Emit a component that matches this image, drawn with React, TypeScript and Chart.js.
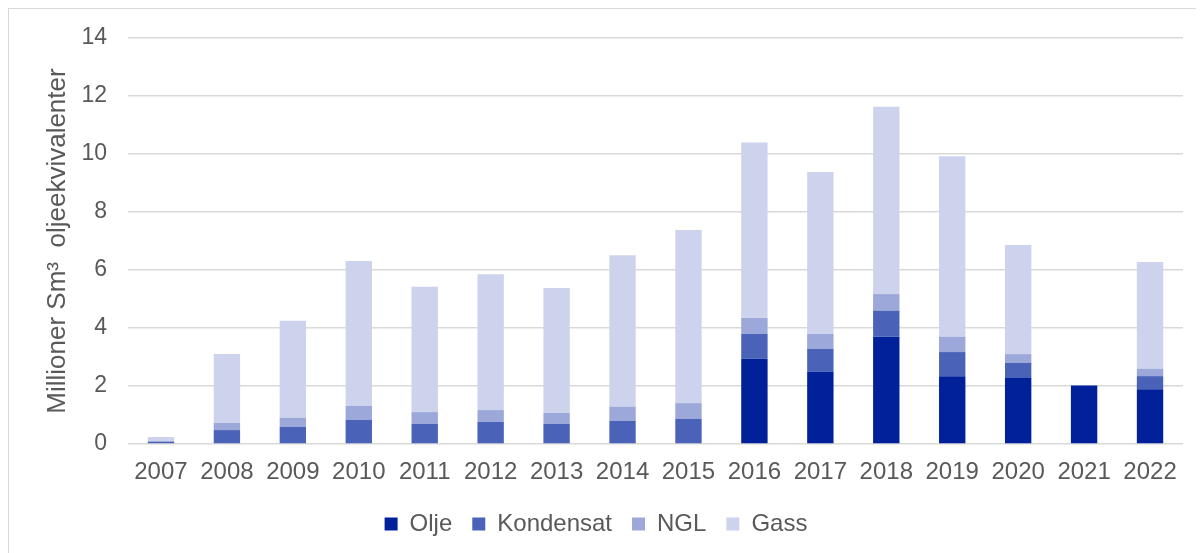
import React, { useEffect, useRef } from "react";
import { Chart, registerables } from "chart.js";

Chart.register(...registerables);

const years = ["2007", "2008", "2009", "2010", "2011", "2012", "2013", "2014", "2015", "2016", "2017", "2018", "2019", "2020", "2021", "2022"];
const olje = [0, 0, 0, 0, 0, 0, 0, 0, 0, 2.94, 2.49, 3.7, 2.34, 2.29, 2.02, 1.89];
const kondensat = [0.08, 0.48, 0.59, 0.83, 0.69, 0.76, 0.69, 0.8, 0.87, 0.86, 0.79, 0.9, 0.83, 0.51, 0, 0.45];
const ngl = [0.02, 0.25, 0.32, 0.48, 0.41, 0.41, 0.38, 0.48, 0.54, 0.55, 0.52, 0.57, 0.53, 0.3, 0, 0.26];
const gass = [0.14, 2.37, 3.34, 5.0, 4.32, 4.68, 4.31, 5.23, 5.97, 6.05, 5.58, 6.46, 6.22, 3.76, 0, 3.68];
const yTicks = [0, 2, 4, 6, 8, 10, 12, 14];
const yTitle = "Millioner Sm³  oljeekvivalenter";

const FONT = "'Liberation Sans', Arial, sans-serif";
const TEXT = "#595959";

export default function App() {
  const ref = useRef<HTMLCanvasElement | null>(null);

  useEffect(() => {
    if (!ref.current) return;
    const mk = (label: string, data: number[], color: string) => ({
      label,
      data,
      backgroundColor: color,
      borderWidth: 0,
      barPercentage: 0.4,
      categoryPercentage: 1,
    });
    const chart = new Chart(ref.current, {
      type: "bar",
      data: {
        labels: years,
        datasets: [
          mk("Olje", olje, "#002199"),
          mk("Kondensat", kondensat, "#4A63B8"),
          mk("NGL", ngl, "#9BA8D9"),
          mk("Gass", gass, "#CDD3EC"),
        ],
      },
      options: {
        animation: false,
        responsive: false,
        maintainAspectRatio: false,
        layout: { padding: { top: 29, right: 21, left: 0, bottom: 7 } },
        plugins: {
          tooltip: { enabled: false },
          legend: {
            position: "bottom",
            labels: {
              boxWidth: 13,
              boxHeight: 13,
              padding: 20,
              color: TEXT,
              font: { family: FONT, size: 24 },
            },
          },
        },
        scales: {
          x: {
            stacked: true,
            grid: { display: false, drawTicks: false },
            border: { display: false },
            ticks: { color: TEXT, font: { family: FONT, size: 24 }, padding: 14, maxRotation: 0, autoSkip: false },
            afterFit: (s: any) => { s.height = 48; },
          },
          y: {
            stacked: true,
            min: 0,
            max: 14,
            afterBuildTicks: (s: any) => { s.ticks = yTicks.map((v) => ({ value: v })); },
            grid: { color: "#d9d9d9", lineWidth: 1.5, drawTicks: false },
            border: { display: false },
            ticks: { color: TEXT, font: { family: FONT, size: 23 }, padding: 21 },
            title: {
              display: true,
              text: yTitle,
              color: TEXT,
              font: { family: FONT, size: 26, weight: "normal" },
              padding: { top: 33, bottom: 0 },
            },
            afterFit: (s: any) => {
              s.width = 119;
              s.paddingTop = 0;
              s.paddingBottom = 0;
            },
          },
        },
      },
    });
    return () => chart.destroy();
  }, []);

  return (
    <div style={{ width: 1195, height: 544, borderTop: "1px solid #d9d9d9", borderLeft: "1px solid #d9d9d9", background: "#fff" }}>
      <canvas ref={ref} width={1195} height={544} style={{ display: "block" }} />
    </div>
  );
}
